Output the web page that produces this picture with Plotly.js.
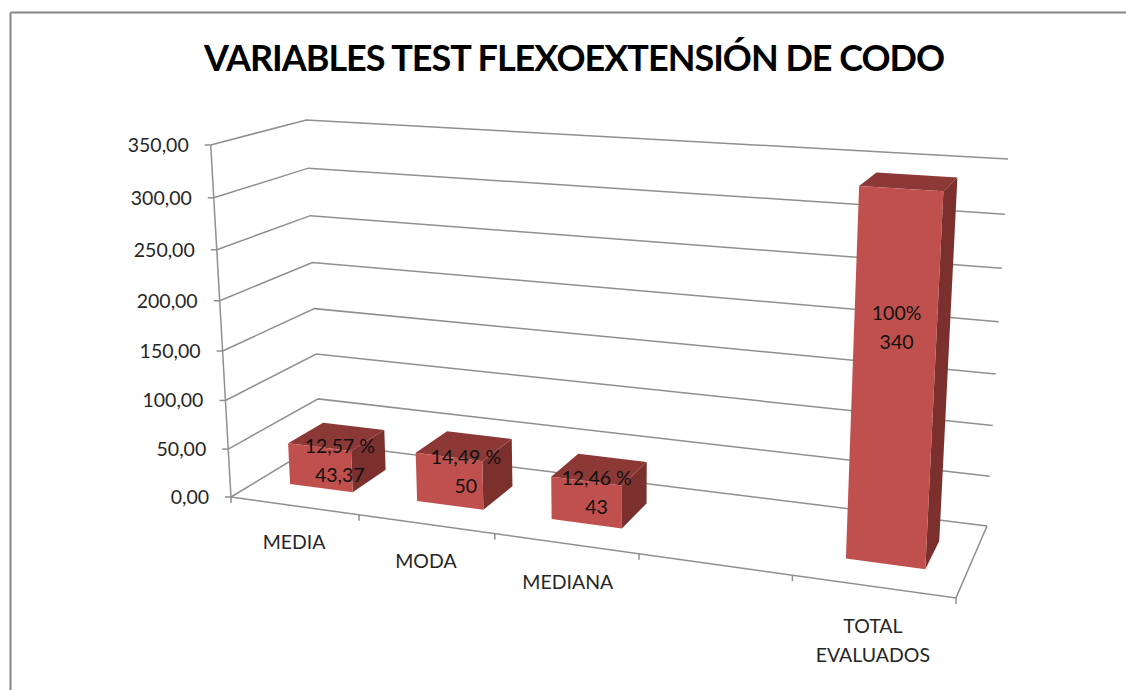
<!DOCTYPE html>
<html>
<head>
<meta charset="utf-8">
<script src="https://cdn.plot.ly/plotly-3.0.1.min.js"></script>
<style>html,body{margin:0;padding:0;background:#fff;overflow:hidden}#chart{width:1126px;height:690px}
.gtitle{letter-spacing:-1px}</style>
</head>
<body>
<div id="chart"></div>
<script>
var titleText = 'VARIABLES TEST FLEXOEXTENSIÓN DE CODO';
var categories = ['MEDIA', 'MODA', 'MEDIANA', '', 'TOTAL\nEVALUADOS'];
var barValues = [43.37, 50, 43, null, 340];
var percentLabels = ['12,57 %', '14,49 %', '12,46 %', '', '100%'];
var valueLabels = ['43,37', '50', '43', '', '340'];
var axisTicks = [0, 50, 100, 150, 200, 250, 300, 350];
var axisTickLabels = ['0,00', '50,00', '100,00', '150,00', '200,00', '250,00', '300,00', '350,00'];

var MAXV = 350, NCAT = categories.length;
var FONT = 'Lato, Carlito, Calibri, sans-serif';
var TEXT_SIZE = 19.5;
var BAR_FROM = 0.25, BAR_TO = 0.75, DEPTH_FROM = 0.3, DEPTH_TO = 0.7;
var labelAnchor = [15, 21, 17, null, 208];
var labelNudge = [2, 1, -3, null, -6];
var catLabelDrop = [38, 39, 41, null, 42];
var catLabelNudge = [0, 0, 2, null, 0];

// Perspective view of the chart box: u = category slot, v = depth, value = height
function project(u, v, value) {
  var w = value / MAXV;
  var d = 1 - 0.0284 * u + 0.0936 * v - 0.0552 * w;
  return [
    (231 + 117.85 * u + 119 * v - 31.9 * w - 0.75 * u * w) / d,
    (497 + 3.2 * u - 12.5 * v - 360 * w + 0.4 * u * w) / d
  ];
}
function polyline(points) {
  var xs = [], ys = [];
  points.forEach(function (p) { var q = project(p[0], p[1], p[2]); xs.push(q[0]); ys.push(q[1]); });
  return { x: xs, y: ys };
}

var traces = [];
var GRID = { color: '#8f8f8f', width: 1.5 };

function addLine(xy, name) {
  traces.push({ type: 'scatter', mode: 'lines', x: xy.x, y: xy.y, line: GRID, hoverinfo: 'skip', showlegend: false, name: name });
}
function addFace(points, color) {
  var xy = polyline(points);
  traces.push({ type: 'scatter', mode: 'lines', x: xy.x, y: xy.y, fill: 'toself', fillcolor: color,
    line: { width: 0, color: color }, hoverinfo: 'skip', showlegend: false });
}
function addText(xs, ys, texts, pos, size, color) {
  traces.push({ type: 'scatter', mode: 'text', x: xs, y: ys, text: texts, textposition: pos, cliponaxis: false,
    textfont: { family: FONT, size: size, color: color }, hoverinfo: 'skip', showlegend: false });
}

// gridlines on the two walls
axisTicks.forEach(function (t) {
  addLine(polyline([[0, 0, t], [0, 1, t], [NCAT, 1, t]]), 'grid ' + t);
  var p = project(0, 0, t);
  addLine({ x: [p[0] - 6, p[0]], y: [p[1], p[1]] }, 'tick ' + t);
});
// floor and vertical axis
addLine(polyline([[0, 0, 0], [NCAT, 0, 0], [NCAT, 1, 0]]), 'floor');
addLine(polyline([[0, 0, 0], [0, 0, MAXV]]), 'axis');
for (var i = 0; i <= NCAT; i++) {
  var b = project(i, 0, 0);
  addLine({ x: [b[0], b[0]], y: [b[1], b[1] + 6] }, 'cat tick ' + i);
}

// bars
barValues.forEach(function (val, i) {
  if (val === null) return;
  var u0 = i + BAR_FROM, u1 = i + BAR_TO;
  var v0 = DEPTH_FROM, v1 = DEPTH_TO;
  addFace([[u1, v0, 0], [u1, v1, 0], [u1, v1, val], [u1, v0, val], [u1, v0, 0]], '#7b302e');
  addFace([[u0, v0, val], [u1, v0, val], [u1, v1, val], [u0, v1, val], [u0, v0, val]], '#8c3836');
  addFace([[u0, v0, 0], [u1, v0, 0], [u1, v0, val], [u0, v0, val], [u0, v0, 0]], '#c0504d');
});

// axis tick labels
var tx = [], ty = [];
axisTicks.forEach(function (t) { var p = project(0, 0, t); tx.push(p[0] - 22); ty.push(p[1] + 2); });
addText(tx, ty, axisTickLabels, 'middle left', TEXT_SIZE, '#262626');

// category labels, one text per row
categories.forEach(function (c, i) {
  if (!c) return;
  var p = project(i + 0.5, 0, 0);
  c.split('\n').forEach(function (row, r) {
    addText([p[0] + catLabelNudge[i]], [p[1] + catLabelDrop[i] + r * 29], [row], 'middle center', TEXT_SIZE, '#262626');
  });
});

// value labels, two rows on each bar
barValues.forEach(function (val, i) {
  if (val === null) return;
  var p = project(i + 0.5, 0.5, labelAnchor[i]);
  addText([p[0] + labelNudge[i]], [p[1] - 14.5], [percentLabels[i]], 'middle center', TEXT_SIZE, '#111111');
  addText([p[0] + labelNudge[i]], [p[1] + 14.5], [valueLabels[i]], 'middle center', TEXT_SIZE, '#111111');
});

var layout = {
  width: 1126, height: 690,
  margin: { l: 0, r: 0, t: 0, b: 0 },
  paper_bgcolor: '#ffffff', plot_bgcolor: '#ffffff',
  showlegend: false,
  title: { text: '<b>' + titleText + '</b>', x: 574 / 1126, xanchor: 'center', y: 1 - 58 / 690, yanchor: 'middle',
    font: { family: FONT, size: 36, color: '#000000' } },
  xaxis: { range: [0, 1126], visible: false, fixedrange: true },
  yaxis: { range: [690, 0], visible: false, fixedrange: true },
  shapes: [
    { type: 'line', xref: 'paper', yref: 'paper', x0: 10.5 / 1126, x1: 1, y0: 1 - 12.5 / 690, y1: 1 - 12.5 / 690, line: { color: '#868686', width: 2 } },
    { type: 'line', xref: 'paper', yref: 'paper', x0: 10.5 / 1126, x1: 10.5 / 1126, y0: 1 - 12.5 / 690, y1: 0, line: { color: '#868686', width: 2 } }
  ]
};
Plotly.newPlot('chart', traces, layout, { displayModeBar: false, staticPlot: true });
</script>
</body>
</html>
